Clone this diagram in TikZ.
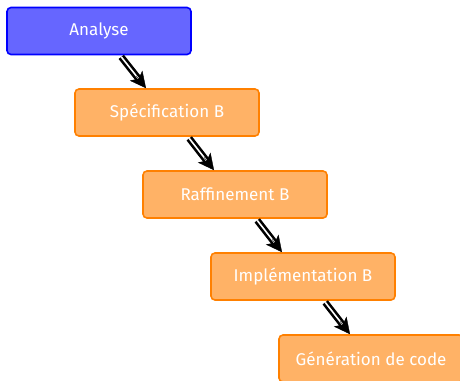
\documentclass[tikz,border=0pt]{standalone}
\usepackage{fontspec}
\setmainfont{Fira Sans}
\usetikzlibrary{arrows.meta}

\tikzset{
  phase/.style={draw=orange, fill=orange!60, text=white, line width=1.6pt,
    rounded corners=4pt, minimum width=184pt, minimum height=47pt,
    font=\fontsize{17}{20}\selectfont},
  start/.style={phase, draw=blue, fill=blue!60},
  flowhead/.style={draw, double=black, double distance=0pt, line width=0.2pt,
    shorten <=26pt, shorten >=0pt, -{Stealth[length=16pt,width=16pt,inset=4pt]}},
  flow/.style={double, double distance=1.6pt, line width=2.6pt, black,
    shorten <=2pt, shorten >=11pt, postaction={flowhead}}
}

\begin{document}
\begin{tikzpicture}[x=1pt,y=-1pt]
\useasboundingbox (0,0) rectangle (460,380);

% etapes
\path (99,31) node[start] (ana) {Analyse};
\path (167,112.5) node[phase] (spec) {Spécification B};
\path (235,194.5) node[phase] (raff) {Raffinement B};
\path (303,276.5) node[phase] (impl) {Implémentation B};
\path (371,358.5) node[phase] (gen) {Génération de code};

% fleches
\draw[flow] ([xshift=21pt]ana.south) -- ([xshift=-21pt]spec.north);
\draw[flow] ([xshift=21pt]spec.south) -- ([xshift=-21pt]raff.north);
\draw[flow] ([xshift=21pt]raff.south) -- ([xshift=-21pt]impl.north);
\draw[flow] ([xshift=21pt]impl.south) -- ([xshift=-21pt]gen.north);

\end{tikzpicture}
\end{document}
